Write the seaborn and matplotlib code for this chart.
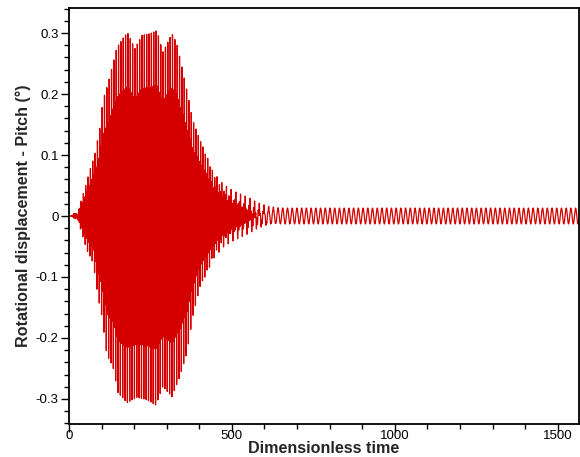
import numpy as np
import matplotlib
matplotlib.use("Agg")
import matplotlib.pyplot as plt
import seaborn as sns
from matplotlib.ticker import MultipleLocator

# ---- values ----
# upper envelope of the flutter oscillation (time, amplitude)
env_up_t = [0, 10, 18, 26, 30, 40, 49, 64, 80, 95, 104, 120, 135, 147, 172, 181, 202, 224, 250, 270,
            288, 316, 331, 350, 365, 380, 402, 423, 442, 472, 503, 546, 577, 610, 650]
env_up_v = [0, 0.001, 0.006, 0.002, 0.012, 0.03, 0.046, 0.075, 0.103, 0.146, 0.19, 0.218, 0.251, 0.277,
            0.297, 0.300, 0.275, 0.297, 0.300, 0.305, 0.269, 0.300, 0.283, 0.236, 0.198, 0.157, 0.125,
            0.097, 0.070, 0.048, 0.034, 0.021, 0.010, 0.003, 0]
# lower envelope (time, magnitude)
env_lo_t = [0, 10, 18, 26, 30, 40, 55, 74, 89, 101, 116, 135, 150, 178, 208, 239, 267, 288, 316, 340,
            362, 380, 402, 423, 442, 472, 503, 546, 577, 610, 650]
env_lo_v = [0, 0.001, 0.006, 0.002, 0.012, 0.03, 0.056, 0.077, 0.133, 0.165, 0.228, 0.248, 0.290, 0.307,
            0.298, 0.302, 0.311, 0.280, 0.297, 0.264, 0.225, 0.165, 0.116, 0.092, 0.068, 0.046, 0.033,
            0.020, 0.010, 0.003, 0]
main_period = 3.6           # period of the growing oscillation
core_ratio = 0.70           # height of the lower (alternate) cycles relative to the envelope
# residual steady oscillation
tail_t = [0, 400, 500, 560, 600, 1565]
tail_v = [0, 0, 0.008, 0.012, 0.013, 0.013]
tail_period = 14.5

x_ticks = [0, 500, 1000, 1500]
x_labels = ["0", "500", "1000", "1500"]
y_ticks = [-0.3, -0.2, -0.1, 0, 0.1, 0.2, 0.3]
y_labels = ["-0.3", "-0.2", "-0.1", "0", "0.1", "0.2", "0.3"]
x_label = "Dimensionless time"
y_label = "Rotational displacement - Pitch (°)"
line_color = "#d40000"

# ---- build the signal from the read envelopes ----
t = np.arange(0, 1565.01, 0.2)
up = np.interp(t, env_up_t, env_up_v)
lo = np.interp(t, env_lo_t, env_lo_v)
s = np.sin(2 * np.pi * t / main_period)
m0 = (1 + core_ratio) / 2
m1 = (1 - core_ratio) / (2 * np.cos(np.pi / 4))
mod = m0 + m1 * np.cos(np.pi * t / main_period)   # alternate cycles tall / short
main = np.where(s >= 0, up * s, lo * s) * mod
tail = np.interp(t, tail_t, tail_v) * np.sin(2 * np.pi * t / tail_period)
y = main + tail

sns.set_theme(style="white")
plt.rcParams["font.family"] = ["Liberation Sans", "DejaVu Sans"]
plt.rcParams["axes.unicode_minus"] = False

fig = plt.figure(figsize=(5.8, 4.57), dpi=100)
ax = fig.add_axes([0.119, 0.0722, 0.879, 0.9103])
sns.lineplot(x=t, y=y, ax=ax, color=line_color, linewidth=0.9, estimator=None, sort=False)

ax.set_xlim(0, 1565)
ax.set_ylim(-0.341, 0.341)
ax.set_xticks(x_ticks)
ax.set_xticklabels(x_labels)
ax.set_yticks(y_ticks)
ax.set_yticklabels(y_labels)
ax.xaxis.set_minor_locator(MultipleLocator(100))
ax.yaxis.set_minor_locator(MultipleLocator(0.02))
ax.tick_params(which="both", direction="out", top=False, right=False, bottom=True, left=True,
               colors="black", width=1.0, labelsize=9.5)
ax.tick_params(which="major", length=5.5)
ax.tick_params(which="minor", length=3.5)
ax.tick_params(axis="x", which="major", pad=-1)
ax.tick_params(axis="y", which="major", pad=2)
for sp in ax.spines.values():
    sp.set_color("black")
    sp.set_linewidth(1.3)
ax.set_xlabel(x_label, fontsize=11.6, fontweight="bold", labelpad=-1)
ax.set_ylabel(y_label, fontsize=11.6, fontweight="bold", labelpad=3)
fig.savefig("out.png", dpi=100)
